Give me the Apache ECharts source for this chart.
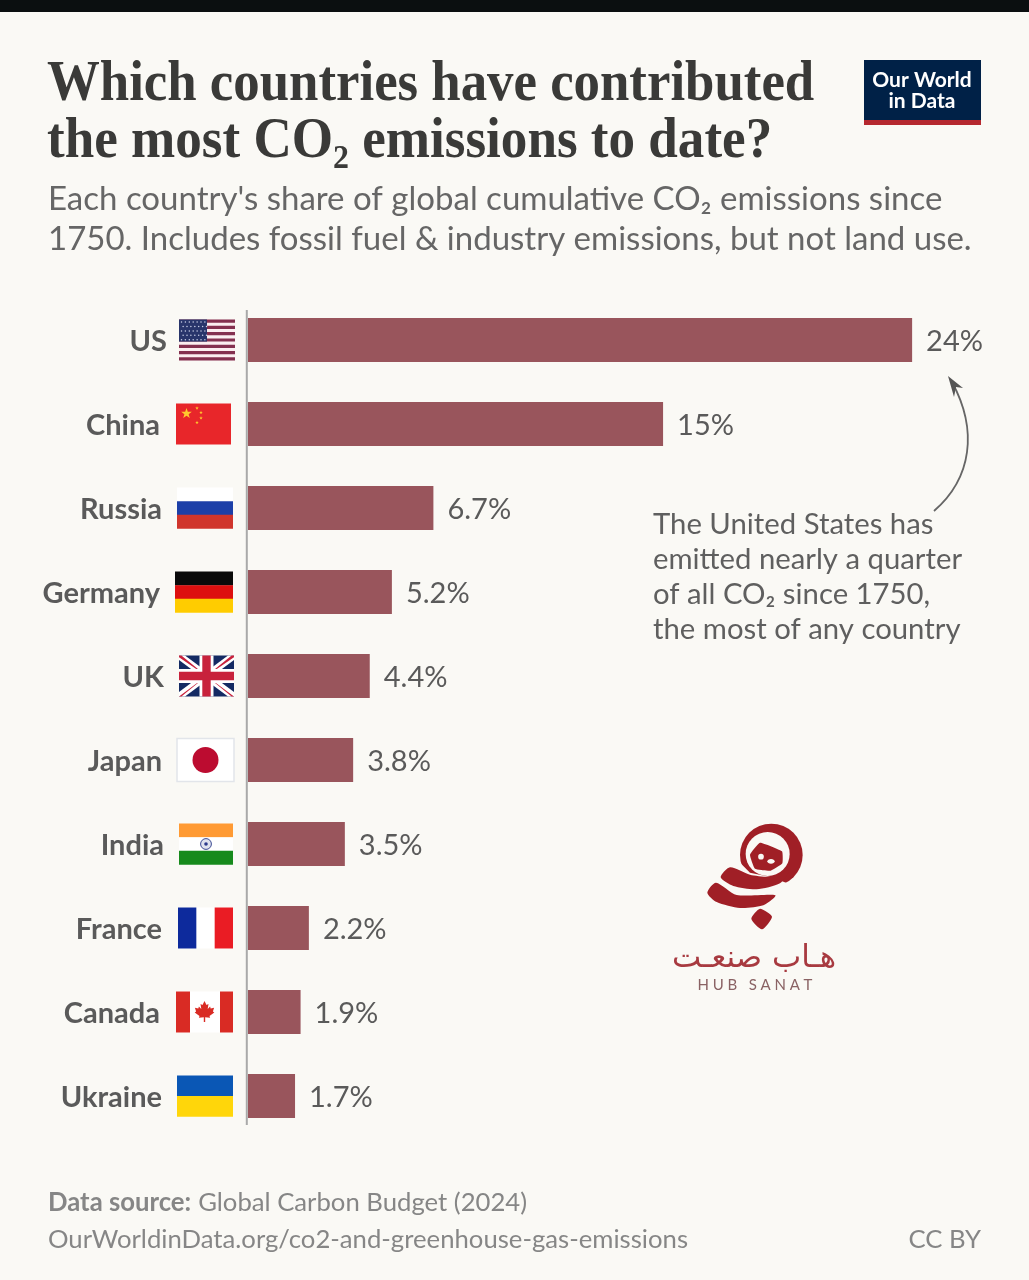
<!DOCTYPE html>
<html>
<head>
<meta charset="utf-8">
<title>Cumulative CO₂ emissions by country</title>
<script src="https://cdn.jsdelivr.net/npm/echarts@6/dist/echarts.min.js"></script>
<style>
  html, body { margin: 0; padding: 0; background: #faf9f5; }
  #chart { width: 1029px; height: 1280px; }
</style>
</head>
<body>
<div id="chart"></div>
<script>
// Share of global cumulative CO2 emissions since 1750, in percent
const countries = ['US', 'China', 'Russia', 'Germany', 'UK', 'Japan', 'India', 'France', 'Canada', 'Ukraine'];
const shares = [24, 15, 6.7, 5.2, 4.4, 3.8, 3.5, 2.2, 1.9, 1.7];

const titleLines = ['Which countries have contributed', 'the most CO₂ emissions to date?'];
const subtitleLines = ["Each country's share of global cumulative CO₂ emissions since",
  '1750. Includes fossil fuel & industry emissions, but not land use.'];
const noteLines = ['The United States has', 'emitted nearly a quarter', 'of all CO₂ since 1750,', 'the most of any country'];

const PAPER = '#faf9f5';
const BAR = '#99555c';
const INK = '#5a5a5a';
const sans = 'Lato, "Noto Sans", sans-serif';

// Right-hand gap between each country name and its flag
const nameGaps = [0, 7, 5, 7, 3, 5, 3, 5, 7, 5];
// Left edge and width of each flag
const flagX = [179, 176, 177, 175, 179, 177, 179, 178, 176, 177];
const flagW = [56, 55, 56, 58, 55, 57, 54, 55, 57, 56];
const FLAG_H = 41;

const rect = (x, y, width, height, fill) => ({ type: 'rect', shape: { x, y, width, height }, style: { fill } });
const disc = (cx, cy, r, fill, extra) => ({ type: 'circle', shape: { cx, cy, r }, style: Object.assign({ fill }, extra) });
const poly = (points, fill, smooth) => ({ type: 'polygon', shape: { points, smooth: smooth || 0 }, style: { fill } });

function star(cx, cy, r, fill) {
  const pts = [];
  for (let i = 0; i < 10; i++) {
    const a = -Math.PI / 2 + i * Math.PI / 5;
    const q = i % 2 ? r * 0.4 : r;
    pts.push([cx + q * Math.cos(a), cy + q * Math.sin(a)]);
  }
  return poly(pts, fill);
}

const hBands = (w, h, colors) => colors.map((c, i) => rect(0, i * h / colors.length, w, h / colors.length + 0.3, c));

const flagPainters = {
  US(w, h) {
    const out = [rect(0, 0, w, h, '#fbeef0')];
    const sh = h / 13;
    for (let i = 0; i < 13; i += 2) out.push(rect(0, i * sh, w, sh, '#84304f'));
    out.push(rect(0, 0, w * 0.5, sh * 7, '#28356b'));
    for (let r = 0; r < 5; r++) {
      for (let c = 0; c < 7; c++) out.push(disc(2.5 + c * 3.9 + (r % 2) * 1.6, 2.6 + r * 4.4, 0.75, '#c9cfe6'));
    }
    return out;
  },
  China(w, h) {
    const y = '#ffc92e';
    return [rect(0, 0, w, h, '#e8262a'), star(10.5, 10, 5.6, y), star(21, 4.6, 1.9, y),
      star(25, 9, 1.9, y), star(25, 14.5, 1.9, y), star(21, 19, 1.9, y)];
  },
  Russia: (w, h) => hBands(w, h, ['#ffffff', '#1c3fa8', '#d0352c']),
  Germany: (w, h) => hBands(w, h, ['#0a0a0a', '#dd0f0f', '#ffcc00']),
  UK(w, h) {
    const out = [rect(0, 0, w, h, '#142a63')];
    const t = 6;
    const tv = t * h / w;
    out.push(poly([[0, 0], [t, 0], [w, h - tv], [w, h], [w - t, h], [0, tv]], '#ffffff'));
    out.push(poly([[w, 0], [w - t, 0], [0, h - tv], [0, h], [t, h], [w, tv]], '#ffffff'));
    const s = 2.4;
    const sv = s * h / w;
    out.push(poly([[0, 0], [s, 0], [w / 2, h / 2], [w, h], [w - s, h], [w / 2, h / 2], [0, sv]], '#c8223c'));
    out.push(poly([[w, 0], [w - s, 0], [w / 2, h / 2], [0, h], [s, h], [w / 2, h / 2], [w, sv]], '#c8223c'));
    out.push(rect(w / 2 - 7, 0, 14, h, '#ffffff'), rect(0, h / 2 - 7, w, 14, '#ffffff'));
    out.push(rect(w / 2 - 4.2, 0, 8.4, h, '#c8223c'), rect(0, h / 2 - 4.2, w, 8.4, '#c8223c'));
    return out;
  },
  Japan(w, h) {
    return [{ type: 'rect', shape: { x: 0, y: -1, width: w, height: h + 2 }, style: { fill: '#ffffff', stroke: '#e2e5ea', lineWidth: 1.5 } },
      disc(w / 2, h / 2, 13, '#bc0c30')];
  },
  India(w, h) {
    return hBands(w, h, ['#ff9a33', '#ffffff', '#168a1c']).concat([
      disc(w / 2, h / 2, 5.4, '#dfe2ee', { stroke: '#3c4a94', lineWidth: 1 }),
      disc(w / 2, h / 2, 1.8, '#2c3a8c')]);
  },
  France(w, h) {
    return [rect(0, 0, w, h, '#ffffff'), rect(0, 0, w / 3, h, '#0d2a9c'), rect(w * 2 / 3, 0, w / 3, h, '#ea1c24')];
  },
  Canada(w, h) {
    const m = w / 2;
    const red = '#d92b24';
    const leaf = [[0, -11], [2, -7], [4, -8], [3.2, -3], [5.6, -5.4], [6.2, -3.6], [9.6, -4.2], [8.4, -0.6],
      [9.8, 0.4], [5, 4], [5.6, 5.8], [0.7, 5.2], [0.7, 10], [-0.7, 10], [-0.7, 5.2], [-5.6, 5.8], [-5, 4],
      [-9.8, 0.4], [-8.4, -0.6], [-9.6, -4.2], [-6.2, -3.6], [-5.6, -5.4], [-3.2, -3], [-4, -8], [-2, -7]];
    return [rect(0, 0, w, h, '#ffffff'), rect(0, 0, 14, h, red), rect(w - 13, 0, 13, h, red),
      poly(leaf.map(p => [m + p[0], h / 2 + p[1]]), red)];
  },
  Ukraine: (w, h) => hBands(w, h, ['#0a57b5', '#ffd60a'])
};

const chart = echarts.init(document.getElementById('chart'), null, { renderer: 'canvas' });

const nameRich = {};
nameGaps.forEach((gap, i) => {
  nameRich['n' + i] = {
    fontFamily: sans, fontSize: 29, fontWeight: 700, color: INK,
    padding: [4, gap, 0, 0]
  };
});

chart.setOption({
  backgroundColor: PAPER,
  animation: false,
  grid: { left: 248, top: 298, width: 774.8, height: 840 },
  xAxis: { type: 'value', min: 0, max: 28, show: false },
  yAxis: {
    type: 'category',
    data: countries,
    inverse: true,
    axisLine: { show: false },
    axisTick: { show: false },
    axisLabel: {
      margin: 81,
      formatter: (name, i) => `{n${i}|${name}}`,
      rich: nameRich
    }
  },
  series: [{
    type: 'bar',
    data: shares,
    barWidth: 44,
    itemStyle: { color: BAR },
    label: {
      show: true,
      position: 'right',
      distance: 14,
      offset: [0, 2],
      formatter: '{c}%',
      fontFamily: sans,
      fontSize: 29,
      color: INK
    }
  }]
});

function textEl(text, x, y, style) {
  return {
    type: 'text', x, y,
    style: Object.assign({ text, fontFamily: sans, fill: INK, verticalAlign: 'middle', align: 'left' }, style)
  };
}

const rowY = i => chart.convertToPixel({ yAxisIndex: 0 }, countries[i]);

const flags = countries.map((name, i) => ({
  type: 'group',
  x: flagX[i],
  y: rowY(i) - FLAG_H / 2,
  children: flagPainters[name](flagW[i], FLAG_H)
}));

const axisX = chart.convertToPixel({ xAxisIndex: 0 }, 0) - 1.2;

const logoRed = '#a01f26';
const hubMark = {
  type: 'group', x: 700, y: 820, scaleX: 1 / 3, scaleY: 1 / 3,
  children: [
    disc(214, 105, 94, logoRed),
    disc(203, 102, 66, PAPER),
    poly([[180, 68], [246, 94], [247, 130], [212, 152], [165, 146], [150, 104]], logoRed, 0.12),
    disc(183, 110, 8.5, PAPER),
    { type: 'ellipse', shape: { cx: 213, cy: 124, rx: 11, ry: 7 }, style: { fill: PAPER } },
    poly([[60, 130], [124, 132], [150, 158], [215, 172], [262, 190], [230, 240], [60, 240]], PAPER),
    poly([[62, 172], [90, 142], [150, 164], [215, 170], [268, 150], [240, 190], [170, 208], [100, 198]], logoRed, 0.25),
    poly([[22, 218], [48, 188], [110, 225], [226, 226], [190, 256], [120, 264], [50, 246]], logoRed, 0.25),
    poly([[180, 266], [216, 290], [186, 328], [154, 296]], logoRed, 0.22)
  ]
};

const arrow = [
  { type: 'bezierCurve', shape: { x1: 934, y1: 511, cpx1: 972, cpy1: 478, cpx2: 978, cpy2: 430, x2: 952, y2: 382 },
    style: { stroke: '#666666', lineWidth: 1.8, fill: 'none' } },
  poly([[948, 376], [963, 388], [956, 387], [954, 397]], '#555555')
];

const titleStyle = { fontFamily: '"Liberation Serif", serif', fontWeight: 700, fontSize: 56, fill: '#3a3a38' };
const footStyle = { fontSize: 25.7, fill: '#868686' };

chart.setOption({
  graphic: { elements: [
    { type: 'rect', shape: { x: 0, y: 0, width: 1029, height: 12 }, style: { fill: '#0b0f10' } },

    Object.assign(textEl(titleLines[0], 47, 86, titleStyle), { scaleX: 0.943 }),
    Object.assign(textEl(titleLines[1], 47, 143, titleStyle), { scaleX: 0.948 }),
    textEl(subtitleLines[0], 48, 199, { fontSize: 33, fill: '#666666' }),
    textEl(subtitleLines[1], 48, 239, { fontSize: 33, fill: '#666666' }),

    { type: 'rect', shape: { x: 864, y: 60, width: 117, height: 65 }, style: { fill: '#002147' } },
    { type: 'rect', shape: { x: 864, y: 120, width: 117, height: 5 }, style: { fill: '#b5282f' } },
    textEl('Our World', 922, 80, { align: 'center', fontSize: 21, fontWeight: 700, fill: '#ffffff' }),
    textEl('in Data', 922, 101, { align: 'center', fontSize: 21, fontWeight: 700, fill: '#ffffff' }),

    { type: 'line', shape: { x1: axisX, y1: 310, x2: axisX, y2: 1125 }, style: { stroke: '#a9a9a9', lineWidth: 2 } },
    ...flags,

    ...noteLines.map((line, i) => textEl(line, 653, 525 + i * 35, { fontSize: 29.3, fill: '#5f5f5f' })),
    ...arrow,

    hubMark,
    textEl('هـاب صنعـت', 754, 959, { align: 'center', fontFamily: '"DejaVu Sans", sans-serif', fontSize: 31, fill: '#a83a40' }),
    textEl('H\u2009\u2009U\u2009\u2009B\u2009\u2009 \u2009\u2009S\u2009\u2009A\u2009\u2009N\u2009\u2009A\u2009\u2009T', 755, 985, { align: 'center', fontSize: 15, fill: '#8a6264' }),

    {
      type: 'text', x: 48, y: 1203,
      style: {
        text: '{b|Data source:}{r|Global Carbon Budget (2024)}',
        fontFamily: sans, verticalAlign: 'middle',
        rich: {
          b: { fontFamily: sans, fontSize: 25.7, fontWeight: 700, fill: '#868686', color: '#868686' },
          r: { fontFamily: sans, fontSize: 25.7, fill: '#868686', color: '#868686', padding: [0, 0, 0, 7] }
        }
      }
    },
    textEl('OurWorldinData.org/co2-and-greenhouse-gas-emissions', 48, 1240, footStyle),
    textEl('CC BY', 981, 1240, Object.assign({ align: 'right' }, footStyle))
  ] }
});
</script>
</body>
</html>
